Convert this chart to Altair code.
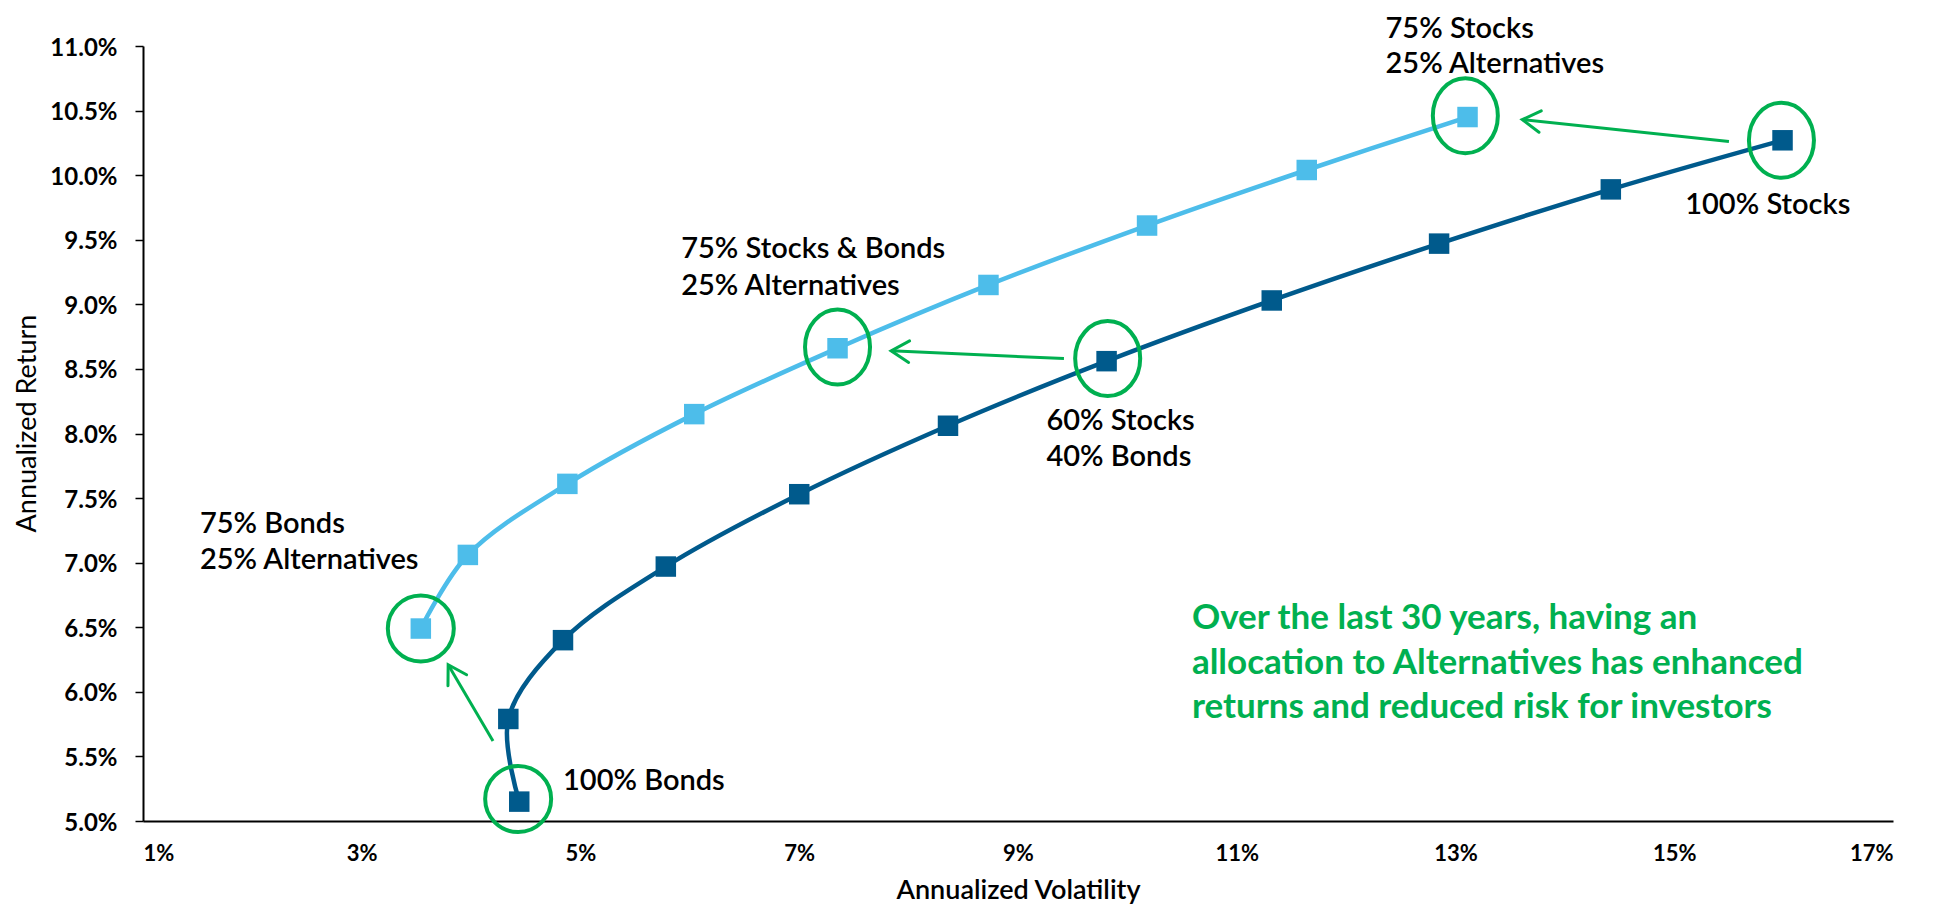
import math
import altair as alt
import pandas as pd

# ---------------- data (percent units) ----------------
dark_vol = [4.44, 4.34, 4.84, 5.78, 7.00, 8.36, 9.81, 11.32, 12.85, 14.42, 15.99]
dark_ret = [5.15, 5.79, 6.40, 6.97, 7.53, 8.06, 8.56, 9.03, 9.47, 9.89, 10.27]
light_vol = [3.54, 3.97, 4.88, 6.04, 7.35, 8.73, 10.18, 11.64, 13.11]
light_ret = [6.49, 7.06, 7.61, 8.15, 8.66, 9.15, 9.61, 10.04, 10.45]

x_ticks = [1, 3, 5, 7, 9, 11, 13, 15, 17]
y_ticks = [5.0, 5.5, 6.0, 6.5, 7.0, 7.5, 8.0, 8.5, 9.0, 9.5, 10.0, 10.5, 11.0]

round_circle_vol = [3.54, 4.43]
round_circle_ret = [6.49, 5.17]
oval_circle_vol = [7.35, 9.82, 13.09, 15.98]
oval_circle_ret = [8.67, 8.58, 10.46, 10.27]

arrow_tail_vol = [4.20, 9.42, 15.50]
arrow_tail_ret = [5.62, 8.58, 10.26]
arrow_head_vol = [3.79, 7.84, 13.61]
arrow_head_ret = [6.21, 8.64, 10.43]

label_text = ["75% Stocks", "25% Alternatives", "100% Stocks",
              "75% Stocks & Bonds", "25% Alternatives",
              "60% Stocks", "40% Bonds",
              "75% Bonds", "25% Alternatives", "100% Bonds"]
label_vol = [12.36, 12.36, 15.10, 5.92, 5.92, 9.26, 9.26, 1.52, 1.52, 4.84]
label_ret = [11.13, 10.86, 9.77, 9.43, 9.14, 8.10, 7.82, 7.30, 7.02, 5.31]

note_text = ["Over the last 30 years, having an",
             "allocation to Alternatives has enhanced",
             "returns and reduced risk for investors"]
note_vol = [10.59, 10.59, 10.59]
note_ret = [6.57, 6.22, 5.88]

# ---------------- layout / style ----------------
W, H = 1750, 775
X_DOM = [1, 17]
Y_DOM = [5, 11]
DARK = "#005A8C"
LIGHT = "#4DBDEA"
GREEN = "#00B050"
FONT = "Lato"

line_df = pd.DataFrame({
    "x": dark_vol + light_vol,
    "y": dark_ret + light_ret,
    "series": ["Stocks/Bonds"] * len(dark_vol) + ["With Alternatives"] * len(light_vol),
    "idx": list(range(len(dark_vol))) + list(range(len(light_vol))),
})
round_df = pd.DataFrame({"x": round_circle_vol, "y": round_circle_ret})
oval_df = pd.DataFrame({"x": oval_circle_vol, "y": oval_circle_ret})

px_x = W / (X_DOM[1] - X_DOM[0])
px_y = H / (Y_DOM[1] - Y_DOM[0])
angles = []
for tv, tr, hv, hr in zip(arrow_tail_vol, arrow_tail_ret, arrow_head_vol, arrow_head_ret):
    dx = (hv - tv) * px_x
    dy = -(hr - tr) * px_y
    angles.append(math.degrees(math.atan2(dy, dx)) % 360)
arrow_df = pd.DataFrame({"x": arrow_tail_vol, "y": arrow_tail_ret,
                         "x2": arrow_head_vol, "y2": arrow_head_ret, "ang": angles})
head_df = pd.DataFrame({"x": arrow_head_vol, "y": arrow_head_ret, "ang": angles})
label_df = pd.DataFrame({"x": label_vol, "y": label_ret, "t": label_text})
note_df = pd.DataFrame({"x": note_vol, "y": note_ret, "t": note_text})

x_enc = alt.X("x:Q", scale=alt.Scale(domain=X_DOM, nice=False, zero=False),
              axis=alt.Axis(values=x_ticks, labelExpr="format(datum.value, 'd') + '%'",
                            title="Annualized Volatility", grid=False, ticks=False, tickSize=0,
                            domainColor="black", domainWidth=2,
                            labelFont=FONT, labelFontSize=22, labelFontWeight="bold",
                            labelColor="black", labelPadding=22,
                            titleFont=FONT, titleFontSize=27, titleFontWeight=600,
                            titleColor="black", titleX=W / 2, titleY=56,
                            titleBaseline="top"))
y_enc = alt.Y("y:Q", scale=alt.Scale(domain=Y_DOM, nice=False, zero=False),
              axis=alt.Axis(values=y_ticks, labelExpr="format(datum.value, '.1f') + '%'",
                            title="Annualized Return", grid=False, tickSize=8,
                            tickColor="black", tickWidth=1.5,
                            domainColor="black", domainWidth=2,
                            labelFont=FONT, labelFontSize=24, labelFontWeight="bold",
                            labelColor="black", labelPadding=18, labelOffset=2,
                            titleFont=FONT, titleFontSize=27, titleFontWeight="normal",
                            titleColor="black", titleX=-116, titleY=377,
                            titleAngle=270, titleBaseline="middle", titleAlign="center"))

color_scale = alt.Scale(domain=["Stocks/Bonds", "With Alternatives"], range=[DARK, LIGHT])

lines = alt.Chart(line_df).mark_line(interpolate="catmull-rom", strokeWidth=4.5).encode(
    x=x_enc, y=y_enc,
    color=alt.Color("series:N", scale=color_scale, legend=None),
    order="idx:Q",
)
squares = alt.Chart(line_df).mark_point(shape="square", filled=True, size=420, opacity=1).encode(
    x=x_enc, y=y_enc,
    color=alt.Color("series:N", scale=color_scale, legend=None),
)
round_circles = alt.Chart(round_df).mark_point(
    shape="circle", filled=False, size=66 * 66, stroke=GREEN, strokeWidth=4, opacity=1
).encode(x=x_enc, y=y_enc)
oval_circles = alt.Chart(oval_df).mark_point(
    shape="M0,-1A0.867,1,0,1,1,0,1A0.867,1,0,1,1,0,-1Z",
    filled=False, size=75 * 75, stroke=GREEN, strokeWidth=4, opacity=1
).encode(x=x_enc, y=y_enc)
shafts = alt.Chart(arrow_df).mark_rule(color=GREEN, strokeWidth=3).encode(
    x=x_enc, y=y_enc, x2="x2:Q", y2="y2:Q")
heads = alt.Chart(head_df).mark_point(
    shape="M-1,-0.6L0,0L-1,0.6", filled=False, size=1296, stroke=GREEN,
    strokeWidth=3, opacity=1, strokeCap="round", strokeJoin="miter"
).encode(x=x_enc, y=y_enc, angle=alt.Angle("ang:Q", scale=None))
labels = alt.Chart(label_df).mark_text(
    align="left", baseline="middle", font=FONT, fontSize=29, fontWeight=600, color="black"
).encode(x=x_enc, y=y_enc, text="t:N")
note = alt.Chart(note_df).mark_text(
    align="left", baseline="middle", font=FONT, fontSize=35, fontWeight="bold", color=GREEN
).encode(x=x_enc, y=y_enc, text="t:N")

chart = alt.layer(lines, squares, round_circles, oval_circles, shafts, heads, labels, note).properties(
    width=W, height=H,
    autosize=alt.AutoSizeParams(type="none"),
    padding={"left": 135, "top": 38, "right": 27, "bottom": 84},
    background="white",
).configure_view(stroke=None)

chart.save("out.html", embed_options={"renderer": "svg", "actions": False})
